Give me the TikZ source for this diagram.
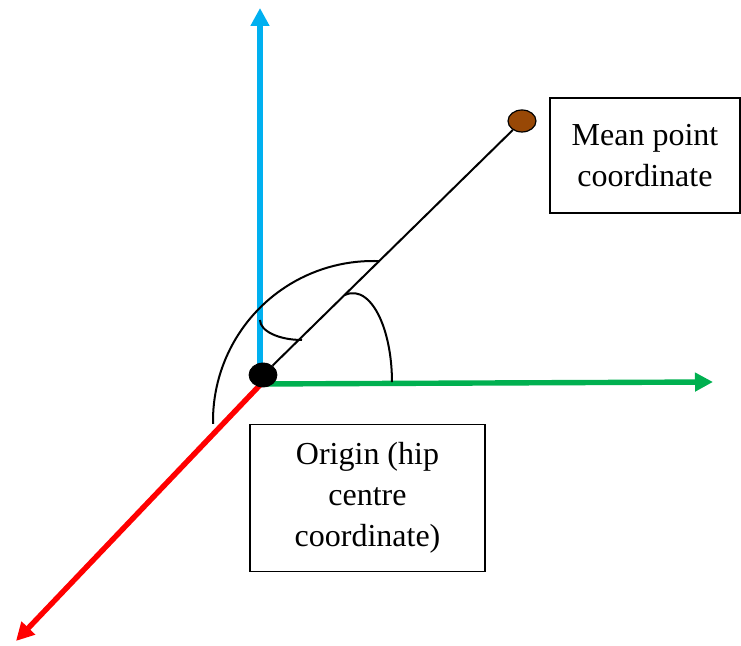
\documentclass[tikz,border=0pt]{standalone}
\usepackage{fontspec}
\setmainfont{Liberation Serif}
\usetikzlibrary{arrows.meta,positioning,calc,shapes.geometric}
\definecolor{AxisBlue}{RGB}{0,176,240}
\definecolor{AxisGreen}{RGB}{0,176,80}
\definecolor{AxisRed}{RGB}{255,0,0}
\definecolor{MeanBrown}{RGB}{152,72,6}

\begin{document}
\begin{tikzpicture}[x=.5pt,y=.5pt,
    axis/.style={line width=2.7pt,-{Triangle[length=9pt,width=9pt]}},
    labelbox/.style={draw,line width=.75pt,align=center,font=\fontsize{16}{20.5}\selectfont,inner sep=0pt}]
  \useasboundingbox (0,0) rectangle (741,646);
  % axes
  \coordinate (O) at (261,262);
  \coordinate (up) at (260,638);
  \coordinate (right) at (713,264);
  \coordinate (down) at (16,5);
  \draw[axis,AxisBlue] (260,266)--(up);
  \draw[axis,AxisGreen] (O)--(right);
  \draw[axis,AxisRed] (O)--(down);
  % points
  \node[draw,fill=black,ellipse,minimum width=14pt,minimum height=12pt,inner sep=0pt] (hip) at (263,271) {};
  \node[draw,line width=.6pt,fill=MeanBrown,ellipse,minimum width=14pt,minimum height=11pt,inner sep=0pt] (mean) at (522,525) {};
  \draw[line width=1pt] (hip)--(mean);
  % angle marks
  \draw[line width=1pt] (373,225) ++(181:160) arc[start angle=181,end angle=87.5,radius=160];
  \draw[line width=1pt] (260,326) arc[start angle=180,end angle=270,x radius=42,y radius=20];
  \draw[line width=1pt] (345,351) arc[start angle=101.8,end angle=0,x radius=39,y radius=89];
  % labels
  \node[labelbox,minimum width=95pt,minimum height=57.5pt] (meanlbl) at (645,490.5) {Mean point\\coordinate};
  \node[labelbox,minimum width=117.5pt,minimum height=73.5pt] (hiplbl) at (367.5,148) {Origin (hip\\centre\\coordinate)};
\end{tikzpicture}
\end{document}
